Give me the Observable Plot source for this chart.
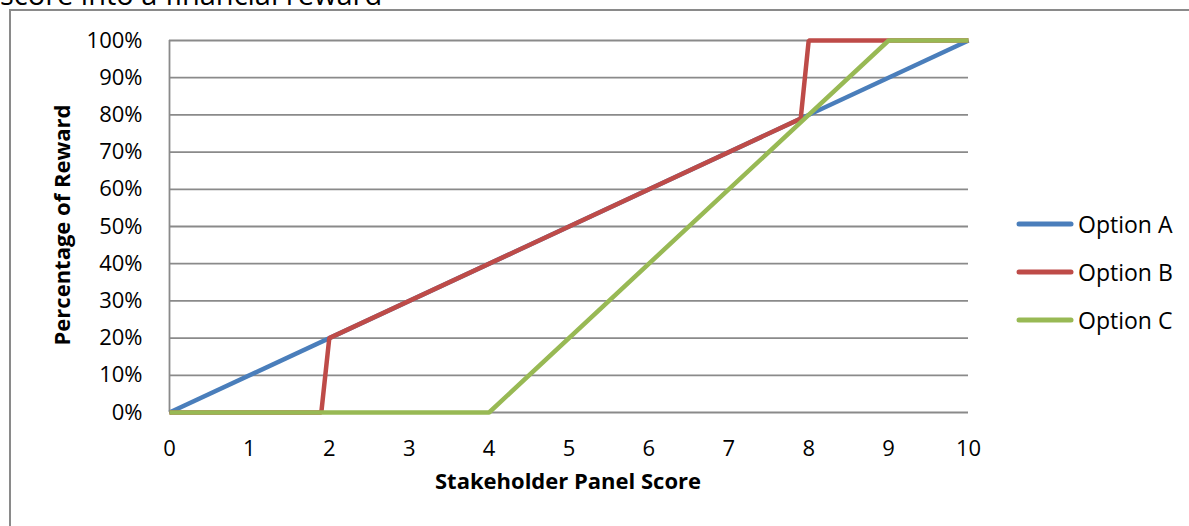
<!DOCTYPE html>
<html>
<head>
<meta charset="utf-8">
<script src="https://cdn.jsdelivr.net/npm/d3@7"></script>
<script src="https://cdn.jsdelivr.net/npm/@observablehq/plot@0.6"></script>
<style>
  html, body { margin: 0; padding: 0; background: #fff; overflow: hidden; }
  body { width: 1189px; height: 526px; position: relative; font-family: "Open Sans", sans-serif; color: #000; }
  #frame { position: absolute; left: 9px; top: 9px; width: 1300px; height: 700px; border: 2px solid #8a8a8a; box-sizing: border-box; }
  #title { position: absolute; left: 0; top: -21px; font-size: 29px; white-space: nowrap; line-height: 1; }
  #chart { position: absolute; left: 0; top: 0; }
  .axtitle { position: absolute; font-weight: bold; font-size: 22px; white-space: nowrap; line-height: 1; }
  #ytitle { left: 61px; top: 225px; transform: translate(-50%, -50%) rotate(-90deg); }
  #xtitle { left: 568px; top: 480px; transform: translate(-50%, -50%); }
  #legend { position: absolute; left: 1015px; top: 0; }
  .item { position: absolute; left: 0; display: flex; align-items: center; transform: translateY(-50%); white-space: nowrap; font-size: 23px; }
  .item svg { margin-right: 3px; }
</style>
</head>
<body>
<div id="title">score into a financial reward</div>
<div id="frame"></div>
<div id="chart"></div>
<div class="axtitle" id="ytitle">Percentage of Reward</div>
<div class="axtitle" id="xtitle">Stakeholder Panel Score</div>
<div id="legend"></div>
<script>
// Data
const seriesNames = ["Option A", "Option B", "Option C"];
const seriesColors = ["#4a7ebb", "#be4b48", "#98b954"];
const optionAScore = [0, 10];
const optionAReward = [0, 1];
const optionBScore = [0, 1.9, 2, 7.9, 8, 10];
const optionBReward = [0, 0, 0.2, 0.79, 1, 1];
const optionCScore = [0, 4, 8, 9, 10];
const optionCReward = [0, 0, 0.8, 1, 1];
const xTicks = [0, 1, 2, 3, 4, 5, 6, 7, 8, 9, 10];
const yTicks = [0, 0.1, 0.2, 0.3, 0.4, 0.5, 0.6, 0.7, 0.8, 0.9, 1];

const toRows = (xs, ys, name) => xs.map((x, i) => ({score: x, reward: ys[i], series: name}));
const rowsA = toRows(optionAScore, optionAReward, seriesNames[0]);
const rowsB = toRows(optionBScore, optionBReward, seriesNames[1]);
const rowsC = toRows(optionCScore, optionCReward, seriesNames[2]);

const lineStyle = {x: "score", y: "reward", strokeWidth: 4.5, strokeLinejoin: "miter", strokeLinecap: "butt"};

const chart = Plot.plot({
  width: 1189,
  height: 526,
  marginLeft: 169,
  marginRight: 221,
  marginTop: 40,
  marginBottom: 114,
  style: {fontFamily: "'Open Sans', sans-serif", fontSize: "22px", color: "#000", background: "transparent"},
  x: {domain: [0, 10], label: null},
  y: {domain: [0, 1], label: null},
  marks: [
    Plot.ruleY(yTicks, {stroke: "#8a8a8a", strokeWidth: 1.8}),
    Plot.ruleX([0], {stroke: "#8a8a8a", strokeWidth: 1.8}),
    Plot.line(rowsA, {...lineStyle, stroke: seriesColors[0]}),
    Plot.line(rowsB, {...lineStyle, stroke: seriesColors[1]}),
    Plot.line(rowsC, {...lineStyle, stroke: seriesColors[2]}),
    Plot.axisX({ticks: xTicks, tickSize: 0, tickPadding: 28, tickFormat: d => String(d), label: null, fill: "#000"}),
    Plot.axisY({ticks: yTicks, tickSize: 0, tickPadding: 27, tickFormat: d => Math.round(d * 100) + "%", label: null, fill: "#000"})
  ]
});
document.getElementById("chart").appendChild(chart);

// Legend
const legendY = [224, 272, 320];
const legend = document.getElementById("legend");
seriesNames.forEach((name, i) => {
  const item = document.createElement("div");
  item.className = "item";
  item.style.top = legendY[i] + "px";
  item.innerHTML = `<svg width="60" height="8"><line x1="4" y1="4" x2="56" y2="4" stroke="${seriesColors[i]}" stroke-width="5" stroke-linecap="round"/></svg><span>${name}</span>`;
  legend.appendChild(item);
});
</script>
</body>
</html>
